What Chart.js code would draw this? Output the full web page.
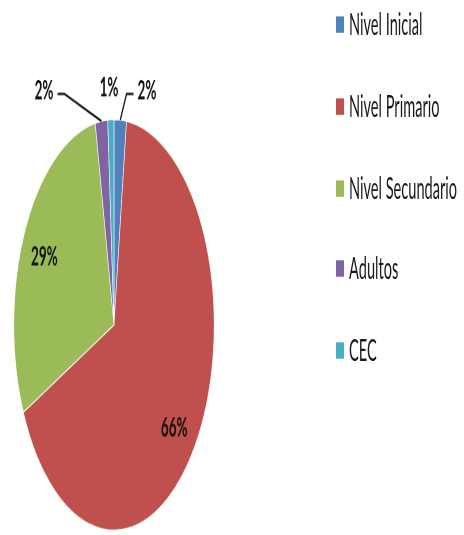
<!DOCTYPE html>
<html>
<head>
<meta charset="utf-8">
<script src="https://cdn.jsdelivr.net/npm/chart.js@4.4.1/dist/chart.umd.min.js"></script>
<style>
  html, body { margin: 0; padding: 0; background: #fff; }
  #frame { position: relative; width: 464px; height: 535px; overflow: hidden; }
  /* the original picture is squashed horizontally, so draw flat and stretch it */
  #stage { position: absolute; left: 0; top: 0; width: 464px; height: 261px; transform: scaleY(2.0498); transform-origin: 0 0; }
  #chartBox { position: absolute; left: 0; top: 0; width: 464px; height: 261px; }
  #legend { position: absolute; left: 336px; top: 0; margin: 0; padding: 0; list-style: none;
            font: 14.6px Lato, sans-serif; color: #1a1a1a; }
  #legend li { position: absolute; left: 0; height: 14px; line-height: 14px; white-space: nowrap;
               display: flex; align-items: center; }
  #legend .swatch { width: 8px; height: 8px; margin-right: 5px; flex: none; }
</style>
</head>
<body>
<div id="frame">
<div id="stage">
  <div id="chartBox"><canvas id="pie"></canvas></div>
  <ul id="legend"></ul>
</div>
</div>
<script>
const categories = ['Nivel Inicial', 'Nivel Primario', 'Nivel Secundario', 'Adultos', 'CEC'];
const percentages = [2, 66, 29, 2, 1];
const sliceColors = ['#4F81BD', '#C0504D', '#9BBB59', '#8064A2', '#4BACC6'];

// where each % label goes: inside at r * radius, or outside next to the rim (with leader line)
const labelSpots = [
  {out: true, dx: 26.7, dy: -14.5, leader: true},
  {r: 0.78, dx: -3, dy: 4},
  {r: 0.78, dx: 0, dy: 2.3},
  {out: true, dx: -57.4, dy: -15.1, leader: true},
  {out: true, dx: -1.8, dy: -15.5, leader: false}
];
const legendGap = 39.9;   // px between legend rows (before stretch)
const legendFirst = 11.7;

const pctLabels = {
  id: 'pctLabels',
  afterDatasetsDraw(chart) {
    const ctx = chart.ctx;
    const meta = chart.getDatasetMeta(0);
    ctx.save();
    ctx.font = 'bold 13.5px Lato, sans-serif';
    ctx.fillStyle = '#111';
    ctx.strokeStyle = '#111';
    ctx.lineWidth = 1.2;
    ctx.textAlign = 'center';
    ctx.textBaseline = 'middle';
    meta.data.forEach((arc, i) => {
      const p = arc.getProps(['x', 'y', 'startAngle', 'endAngle', 'outerRadius'], true);
      const mid = (p.startAngle + p.endAngle) / 2;
      const spot = labelSpots[i];
      const text = percentages[i] + '%';
      if (!spot.out) {
        const rr = p.outerRadius * spot.r;
        ctx.fillText(text, p.x + Math.cos(mid) * rr + spot.dx, p.y + Math.sin(mid) * rr + spot.dy);
        return;
      }
      const ax = p.x + Math.cos(mid) * p.outerRadius;
      const ay = p.y + Math.sin(mid) * p.outerRadius;
      const lx = ax + spot.dx, ly = ay + spot.dy;
      ctx.fillText(text, lx, ly);
      if (spot.leader) {
        const half = ctx.measureText(text).width / 2;
        const side = spot.dx > 0 ? -1 : 1;
        const endX = lx + side * (half + 4);
        const lineY = ly + 1.8;
        ctx.beginPath();
        ctx.moveTo(endX, lineY);
        ctx.lineTo(endX + side * 7, lineY);
        ctx.lineTo(ax, ay);
        ctx.stroke();
      }
    });
    ctx.restore();
  }
};

const chart = new Chart(document.getElementById('pie'), {
  type: 'pie',
  data: {
    labels: categories,
    datasets: [{
      data: percentages,
      backgroundColor: sliceColors,
      borderColor: '#ffffff',
      borderWidth: 0.6
    }]
  },
  options: {
    responsive: true,
    maintainAspectRatio: false,
    animation: false,
    devicePixelRatio: 2,
    layout: { padding: { left: 0, right: 236, top: 58, bottom: 2 } },
    plugins: {
      legend: { display: false },
      tooltip: { enabled: false }
    }
  },
  plugins: [pctLabels]
});

// html legend built from the chart's own legend items
const ul = document.getElementById('legend');
Chart.overrides.pie.plugins.legend.labels.generateLabels(chart).forEach((item, i) => {
  const li = document.createElement('li');
  li.style.top = (legendFirst + i * legendGap - 7) + 'px';
  const sw = document.createElement('span');
  sw.className = 'swatch';
  sw.style.background = item.fillStyle;
  li.appendChild(sw);
  li.appendChild(document.createTextNode(item.text));
  ul.appendChild(li);
});
</script>
</body>
</html>
